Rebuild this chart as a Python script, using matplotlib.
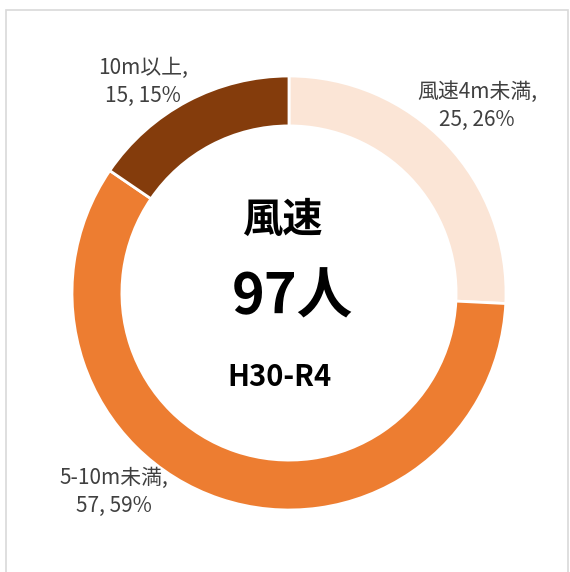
import matplotlib.pyplot as plt
from matplotlib.patches import Rectangle

plt.rcParams['font.family'] = ['Noto Sans CJK JP', 'DejaVu Sans']

labels = ['風速4m未満', '5-10m未満', '10m以上']
counts = [25, 57, 15]
percents = [26, 59, 15]
colors = ['#FBE5D6', '#ED7D31', '#843C0C']
label_pos = [(477, 106), (114, 492), (143, 82)]  # pixel centres of the data labels

W, H = 570, 572
fig = plt.figure(figsize=(W / 100, H / 100), dpi=100)

# light grey frame of the chart area
fig.patches.append(Rectangle((6 / W, -0.01), (W - 8) / W, 1 - 10 / H + 0.01,
                             transform=fig.transFigure, fill=False,
                             edgecolor='#D9D9D9', linewidth=1.2))

cx, cy, r = 289, 293, 217
ax = fig.add_axes([(cx - r) / W, (H - cy - r) / H, 2 * r / W, 2 * r / H])
ax.pie(counts, colors=colors, startangle=90, counterclock=False, radius=1,
       wedgeprops=dict(width=0.23, edgecolor='white', linewidth=2))
ax.set_xlim(-1, 1)
ax.set_ylim(-1, 1)
ax.set_aspect('equal')
ax.axis('off')

for name, n, p, (px, py) in zip(labels, counts, percents, label_pos):
    fig.text(px / W, 1 - py / H, f'{name},\n{n}, {p}%', ha='center', va='center',
             fontsize=15, color='#404040', linespacing=1.4)

fig.text(282 / W, 1 - 220 / H, '風速', ha='center', va='center', fontsize=29,
         fontweight='bold', color='black')
fig.text(292 / W, 1 - 297 / H, '97人', ha='center', va='center', fontsize=40,
         fontweight='bold', color='black')
fig.text(280 / W, 1 - 377 / H, 'H30-R4', ha='center', va='center', fontsize=21,
         fontweight='bold', color='black')

fig.savefig('out.png', dpi=100, facecolor='white')
